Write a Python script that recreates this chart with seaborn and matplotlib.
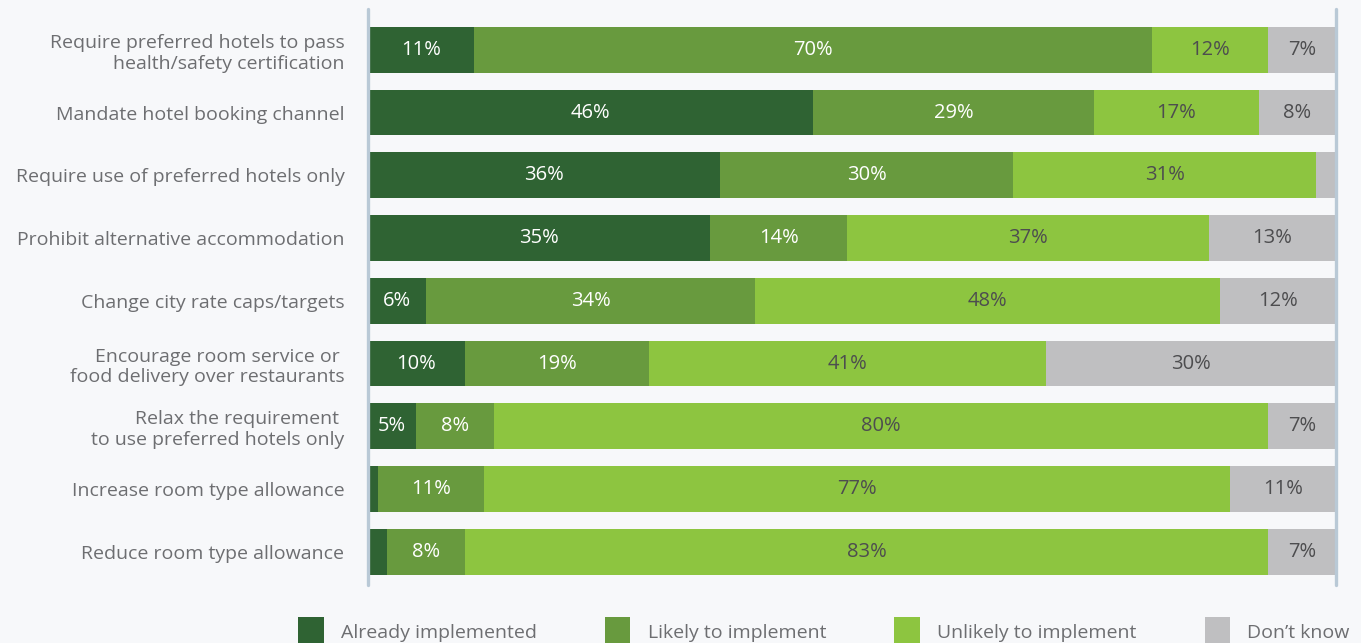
import numpy as np
import pandas as pd
import matplotlib
matplotlib.use("Agg")
import matplotlib.pyplot as plt
from matplotlib.patches import Patch
import seaborn as sns

categories = [
    "Require preferred hotels to pass\nhealth/safety certification",
    "Mandate hotel booking channel",
    "Require use of preferred hotels only",
    "Prohibit alternative accommodation",
    "Change city rate caps/targets",
    "Encourage room service or \nfood delivery over restaurants",
    "Relax the requirement \nto use preferred hotels only",
    "Increase room type allowance",
    "Reduce room type allowance",
]
series_names = ["Already implemented", "Likely to implement",
                "Unlikely to implement", "Don\u2019t know"]
already = [11, 46, 36, 35, 6, 10, 5, 1, 2]
likely = [70, 29, 30, 14, 34, 19, 8, 11, 8]
unlikely = [12, 17, 31, 37, 48, 41, 80, 77, 83]
dont_know = [7, 8, 2, 13, 12, 30, 7, 11, 7]

colors = ["#2f6333", "#689a3e", "#8dc540", "#bfbfc1"]
label_colors = ["white", "white", "#4d4d4f", "#4d4d4f"]
bg = "#f7f8fa"
text_gray = "#6d6e71"

sns.set_theme(style="white")
plt.rcParams["font.family"] = ["Open Sans", "DejaVu Sans"]

raw = np.array([already, likely, unlikely, dont_know], dtype=float)
pct = raw / raw.sum(axis=0) * 100
cum = np.cumsum(pct, axis=0)

fig = plt.figure(figsize=(13.61, 6.43), dpi=100, facecolor=bg)
ax = fig.add_axes([368 / 1361, 1 - 585 / 643, (1336 - 368) / 1361, (585 - 9) / 643])
ax.set_facecolor(bg)

for i in range(3, -1, -1):
    df = pd.DataFrame({"cat": categories, "val": cum[i]})
    sns.barplot(data=df, x="val", y="cat", orient="h", color=colors[i],
                saturation=1, width=0.73, ax=ax, linewidth=0)

for i in range(4):
    for j in range(len(categories)):
        v = raw[i, j]
        if v >= 5:
            xc = cum[i, j] - pct[i, j] / 2
            ax.text(xc, j, f"{int(v)}%", ha="center", va="center",
                    fontsize=14.5, color=label_colors[i])

ax.set_xlim(0, 100)
ax.set_ylim(8.53, -0.65)
ax.set_xlabel("")
ax.set_ylabel("")
ax.set_xticks([])
ax.tick_params(axis="y", length=0, pad=17)
for lab in ax.get_yticklabels():
    lab.set_fontsize(14)
    lab.set_color(text_gray)
    lab.set_linespacing(1.2)
    lab.set_ha("right")

for s in ["top", "bottom"]:
    ax.spines[s].set_visible(False)
for s in ["left", "right"]:
    ax.spines[s].set_visible(True)
    ax.spines[s].set_color("#b9c9d6")
    ax.spines[s].set_linewidth(2.4)
    ax.spines[s].set_capstyle("round")

handles = [Patch(facecolor=c, edgecolor="none") for c in colors]
leg = fig.legend(handles, series_names, ncol=4, loc="center",
                 bbox_to_anchor=(824 / 1361, 1 - 632 / 643),
                 frameon=False, fontsize=14, handlelength=1.3,
                 handleheight=2.0, handletextpad=0.9, columnspacing=3.5,
                 labelcolor=text_gray)

fig.savefig("out.png", dpi=100, facecolor=bg)
